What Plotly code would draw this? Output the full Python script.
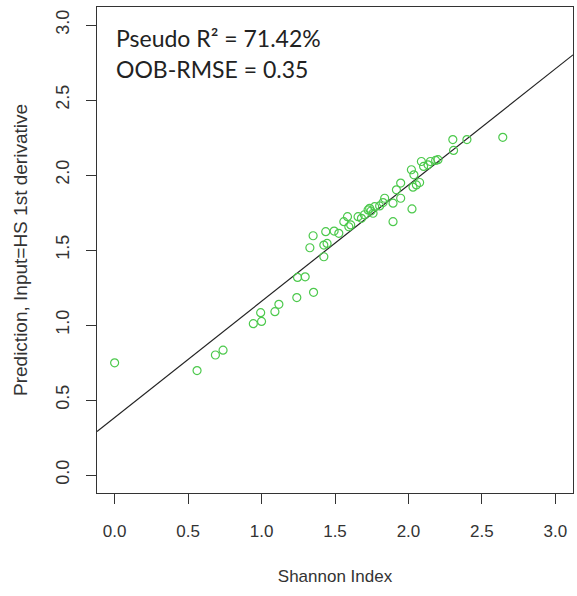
import plotly.graph_objects as go

shannon_index = [0.000, 0.561, 0.686, 0.738, 0.944, 1.000, 0.994, 1.091, 1.118, 1.240,
                 1.354, 1.245, 1.297, 1.329, 1.351, 1.424, 1.424, 1.446, 1.437, 1.494,
                 1.526, 1.560, 1.585, 1.594, 1.607, 1.657, 1.680, 1.700, 1.725, 1.736,
                 1.745, 1.759, 1.770, 1.804, 1.827, 1.838, 1.895, 1.895, 1.918, 1.947,
                 1.947, 2.024, 2.031, 2.037, 2.054, 2.076, 2.020, 2.088, 2.103, 2.133,
                 2.149, 2.185, 2.201, 2.302, 2.307, 2.398, 2.642]
prediction = [0.748, 0.696, 0.800, 0.832, 1.009, 1.024, 1.082, 1.089, 1.138, 1.183,
              1.218, 1.317, 1.321, 1.515, 1.595, 1.455, 1.533, 1.544, 1.622, 1.626,
              1.611, 1.689, 1.722, 1.655, 1.667, 1.722, 1.711, 1.735, 1.767, 1.778,
              1.760, 1.745, 1.789, 1.794, 1.816, 1.845, 1.812, 1.689, 1.901, 1.946,
              1.845, 1.774, 1.919, 2.001, 1.934, 1.950, 2.035, 2.090, 2.057, 2.068,
              2.090, 2.097, 2.102, 2.236, 2.164, 2.236, 2.251]

# Fitted line coefficients (abline)
line_intercept = 0.383
line_slope = 0.775
axis_range = [-0.12, 3.12]
tick_vals = [0.0, 0.5, 1.0, 1.5, 2.0, 2.5, 3.0]

line_x = axis_range
line_y = [line_intercept + line_slope * v for v in line_x]

FONT = "Liberation Sans"

fig = go.Figure()
fig.add_trace(go.Scatter(
    x=line_x, y=line_y, mode="lines",
    line=dict(color="#222222", width=1.2),
    showlegend=False, hoverinfo="skip"))
fig.add_trace(go.Scatter(
    x=shannon_index, y=prediction, mode="markers",
    marker=dict(symbol="circle-open", size=8, color="#4cc94c",
                line=dict(width=1.2, color="#4cc94c")),
    showlegend=False))

axis_common = dict(
    range=axis_range, tickvals=tick_vals, tickformat=".1f",
    showgrid=False, zeroline=False,
    showline=True, linecolor="#333333", linewidth=1.2, mirror=True,
    ticks="outside", ticklen=10, tickcolor="#333333", tickwidth=1.2,
)

fig.update_layout(
    width=577, height=596,
    margin=dict(l=97, r=4, t=7, b=103),
    paper_bgcolor="white", plot_bgcolor="white",
    font=dict(family=FONT, color="#333333"),
    xaxis=dict(**axis_common,
               tickfont=dict(family=FONT, size=17, color="#333333"),
               ticklabelstandoff=12,
               title=dict(text="Shannon Index", font=dict(family=FONT, size=17), standoff=30)),
    yaxis=dict(**axis_common,
               tickangle=-90,
               tickfont=dict(family=FONT, size=18, color="#333333"),
               ticklabelstandoff=10,
               title=dict(text="Prediction, Input=HS 1st derivative",
                          font=dict(family=FONT, size=19), standoff=20)),
    annotations=[
        dict(text="Pseudo R² = 71.42%", xref="paper", yref="paper",
             x=0.036, y=0.936, xanchor="left", yanchor="middle", showarrow=False,
             font=dict(family="Lato", size=23, color="#222222")),
        dict(text="OOB-RMSE = 0.35", xref="paper", yref="paper",
             x=0.036, y=0.872, xanchor="left", yanchor="middle", showarrow=False,
             font=dict(family="Lato", size=23, color="#222222")),
    ],
)

fig.write_html("out.html")
